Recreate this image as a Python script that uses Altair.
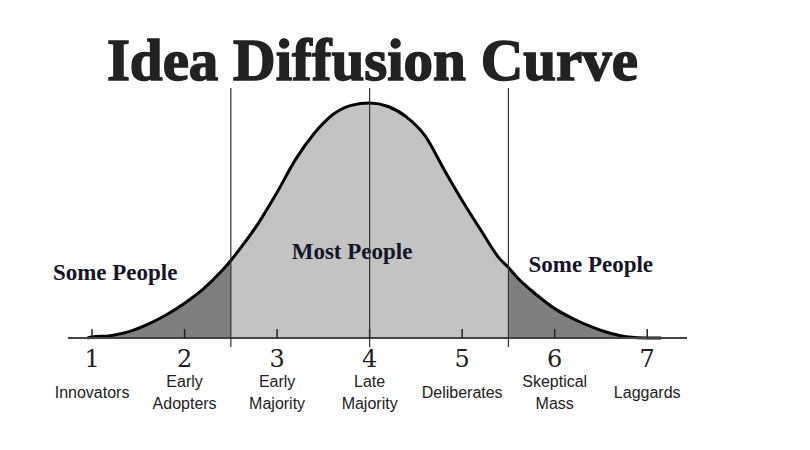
import altair as alt
import pandas as pd

# Curve (x position, relative height)
curve_x = [0.95, 1.0, 1.2, 1.4, 1.6, 1.8, 2.0, 2.2, 2.4, 2.5, 2.6, 2.8, 3.0, 3.2, 3.4,
           3.6, 3.8, 4.0, 4.2, 4.4, 4.6, 4.8, 5.0, 5.2, 5.4, 5.5, 5.6, 5.8, 6.0, 6.2,
           6.4, 6.6, 6.8, 7.0, 7.15]
curve_y = [0.0, 0.004, 0.01, 0.027, 0.058, 0.098, 0.148, 0.208, 0.285, 0.33, 0.38, 0.49,
           0.62, 0.76, 0.87, 0.95, 0.99, 1.0, 0.985, 0.94, 0.86, 0.72, 0.585, 0.46, 0.34,
           0.30, 0.255, 0.185, 0.125, 0.082, 0.047, 0.02, 0.004, 0.0, 0.0]

tick_values = [1, 2, 3, 4, 5, 6, 7]
tick_labels = ["1", "2", "3", "4", "5", "6", "7"]
group_labels = ["Innovators", "Early\nAdopters", "Early\nMajority", "Late\nMajority",
                "Deliberates", "Skeptical\nMass", "Laggards"]
divider_x = [2.5, 4.0, 5.5]
split_left, split_right = 2.5, 5.5

annot_text = ["Some People", "Most People", "Some People"]
annot_x = [1.25, 3.81, 6.39]
annot_y = [0.277, 0.366, 0.31]

title_text = "Idea Diffusion Curve"
x_domain = [0.74, 7.43]

# build shaded segments
rows = []
for x, y in zip(curve_x, curve_y):
    if x <= split_left:
        rows.append({"x": x, "y": y, "seg": "left", "shade": "dark"})
    if split_left <= x <= split_right:
        rows.append({"x": x, "y": y, "seg": "mid", "shade": "light"})
    if x >= split_right:
        rows.append({"x": x, "y": y, "seg": "right", "shade": "dark"})
area_df = pd.DataFrame(rows)
curve_df = pd.DataFrame({"x": curve_x, "y": curve_y})
base_df = pd.DataFrame({"x": [x_domain[0]], "x2": [x_domain[1]], "y": [0.0]})
ticks_df = pd.DataFrame({"x": tick_values, "num": tick_labels, "group": group_labels})
ticks_df["y0"] = 0.0
ticks_df["y1"] = 0.038
ticks_df["ynum"] = -0.123
ticks_df["ygrp"] = [-0.187 if "\n" in g else -0.236 for g in group_labels]
div_df = pd.DataFrame({"x": divider_x})
div_df["y0"] = -0.038
div_df["y1"] = 1.064
annot_df = pd.DataFrame({"x": annot_x, "y": annot_y, "text": annot_text})
title_df = pd.DataFrame({"x": [4.03], "y": [1.098], "text": [title_text]})

xs = alt.Scale(domain=x_domain, range=[60, 679], nice=False, zero=False)
ys = alt.Scale(domain=[0, 1], range=[258, 23], nice=False, zero=False)


def X(f):
    return alt.X(f, scale=xs, axis=None)


def Y(f):
    return alt.Y(f, scale=ys, axis=None, stack=None)


area = alt.Chart(area_df).mark_area(interpolate="monotone").encode(
    x=X("x:Q"),
    y=Y("y:Q"),
    color=alt.Color("shade:N", scale=alt.Scale(domain=["dark", "light"],
                                               range=["#7f7f7f", "#c3c3c3"]), legend=None),
    detail="seg:N",
)

line = alt.Chart(curve_df).mark_line(color="#000000", strokeWidth=3,
                                     interpolate="monotone").encode(
    x=X("x:Q"), y=Y("y:Q")
)

baseline = alt.Chart(base_df).mark_rule(color="#444444", strokeWidth=2).encode(
    x=X("x:Q"), x2="x2:Q", y=Y("y:Q")
)

ticks = alt.Chart(ticks_df).mark_rule(color="#222222", strokeWidth=1.5).encode(
    x=X("x:Q"), y=Y("y0:Q"), y2="y1:Q"
)

dividers = alt.Chart(div_df).mark_rule(color="#333333", strokeWidth=1.2).encode(
    x=X("x:Q"), y=Y("y0:Q"), y2="y1:Q"
)

nums = alt.Chart(ticks_df).mark_text(font="DejaVu Serif", fontSize=24,
                                     baseline="alphabetic", color="#222222").encode(
    x=X("x:Q"), y=Y("ynum:Q"), text="num:N"
)

groups = alt.Chart(ticks_df).mark_text(font="Liberation Sans", fontSize=16, lineBreak="\n",
                                       lineHeight=22, baseline="middle",
                                       color="#222222").encode(
    x=X("x:Q"), y=Y("ygrp:Q"), text="group:N"
)

annots = alt.Chart(annot_df).mark_text(font="Liberation Serif", fontWeight="bold",
                                       fontSize=23, baseline="middle",
                                       color="#15152a").encode(
    x=X("x:Q"), y=Y("y:Q"), text="text:N"
)

title = alt.Chart(title_df).mark_text(font="Liberation Serif", fontWeight="bold",
                                      fontSize=59, baseline="alphabetic", color="#222222",
                                      stroke="#222222", strokeWidth=1.5).encode(
    x=X("x:Q"), y=Y("y:Q"), text="text:N"
)

chart = alt.layer(area, line, baseline, ticks, nums, groups, annots, dividers, title).properties(
    width=794,
    height=362,
    background="white",
    padding={"left": 0, "top": 72, "right": 0, "bottom": 0},
    autosize=alt.AutoSizeParams(type="none"),
).configure_view(strokeWidth=0, stroke=None)

chart.save("out.html", embed_options={"renderer": "svg", "actions": False})
